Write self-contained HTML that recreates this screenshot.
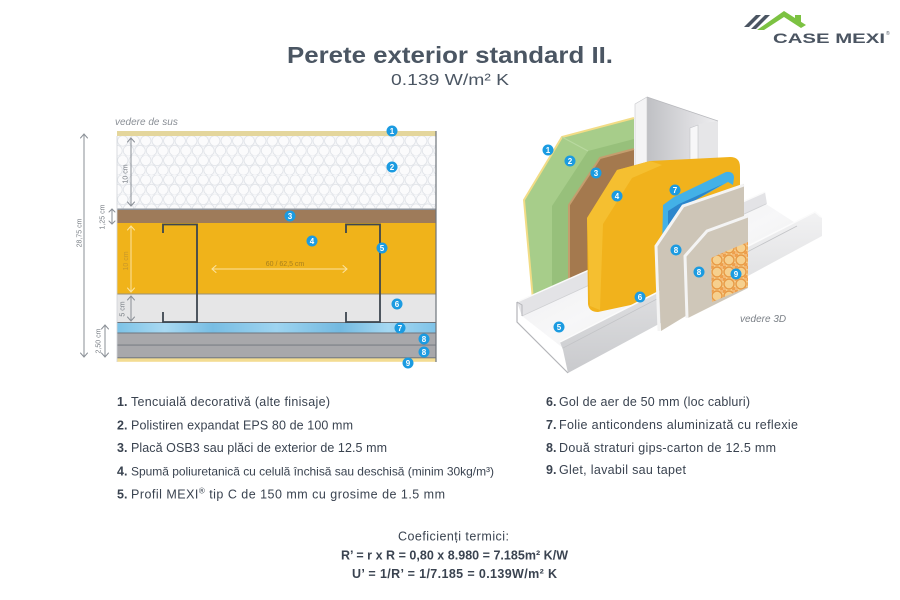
<!DOCTYPE html>
<html><head><meta charset="utf-8"><style>
html,body{margin:0;padding:0;background:#fff;}
svg{display:block;}
text{font-family:"Liberation Sans","DejaVu Sans",sans-serif;}
</style></head><body>
<svg width="900" height="600" viewBox="0 0 900 600" xmlns="http://www.w3.org/2000/svg">
<defs>
<pattern id="eps" x="117" y="136" width="11.5" height="19.5" patternUnits="userSpaceOnUse">
<rect width="11.5" height="19.5" fill="#f6f7f9"/>
<circle cx="5.75" cy="4.9" r="5.2" fill="#fbfbfc" stroke="#e0e3e8" stroke-width="0.8"/>
<circle cx="0" cy="14.6" r="5.2" fill="#fbfbfc" stroke="#e0e3e8" stroke-width="0.8"/>
<circle cx="11.5" cy="14.6" r="5.2" fill="#fbfbfc" stroke="#e0e3e8" stroke-width="0.8"/>
</pattern>
<linearGradient id="foil" x1="0" y1="0" x2="1" y2="0">
<stop offset="0" stop-color="#7cc2e6"/><stop offset="0.15" stop-color="#a9d9f2"/><stop offset="0.3" stop-color="#78bde3"/><stop offset="0.5" stop-color="#9ed4f0"/><stop offset="0.7" stop-color="#73b9e0"/><stop offset="0.85" stop-color="#a5d8f2"/><stop offset="1" stop-color="#7fc3e8"/>
</linearGradient>
<linearGradient id="web" x1="0" y1="0" x2="1" y2="0">
<stop offset="0" stop-color="#bfc0c4"/><stop offset="0.6" stop-color="#dcdcdf"/><stop offset="1" stop-color="#eeeef0"/>
</linearGradient>
<linearGradient id="flange" x1="0" y1="0" x2="0" y2="1">
<stop offset="0" stop-color="#f2f2f3"/><stop offset="1" stop-color="#c9cacd"/>
</linearGradient>
<linearGradient id="floor" x1="0" y1="0" x2="1" y2="1">
<stop offset="0" stop-color="#e9e9eb"/><stop offset="0.5" stop-color="#f7f7f8"/><stop offset="1" stop-color="#e4e4e6"/>
</linearGradient>
<pattern id="wp" x="711" y="242" width="12" height="12" patternUnits="userSpaceOnUse">
<rect width="12" height="12" fill="#f6d08e"/>
<circle cx="6" cy="6" r="5" fill="none" stroke="#e89a45" stroke-width="1.4"/>
<circle cx="0" cy="0" r="3" fill="#ee9f4c"/>
<circle cx="12" cy="12" r="3" fill="#ee9f4c"/>
<circle cx="12" cy="0" r="3" fill="#f3b874"/>
<circle cx="0" cy="12" r="3" fill="#f3b874"/>
</pattern>
</defs>

<!-- Logo -->
<g>
<polygon points="744,27 756,15 761,15 749,27" fill="#4b5562"/>
<polygon points="751,29 765,15 770,15 756,29" fill="#4b5562"/>
<polygon points="757,30 784,11 806,25 801,28 784,17 764,30" fill="#7cc242"/>
<polygon points="795,15 801,15 801,22 795,19" fill="#7cc242"/>
<text x="773" y="43" font-size="13.5" font-weight="bold" fill="#4b5562" textLength="112" lengthAdjust="spacingAndGlyphs">CASE MEXI</text>
<text x="886" y="35" font-size="5" fill="#4b5562">®</text>
</g>

<!-- Title -->
<text x="450" y="63" text-anchor="middle" font-size="23" font-weight="bold" fill="#4b5663" textLength="326" lengthAdjust="spacingAndGlyphs">Perete exterior standard II.</text>
<text x="450" y="85" text-anchor="middle" font-size="16" fill="#4b5663" textLength="118" lengthAdjust="spacingAndGlyphs">0.139 W/m² K</text>

<!-- LEFT DIAGRAM -->
<text x="115" y="125" font-size="10" font-style="italic" fill="#8a8f96">vedere de sus</text>
<rect x="117" y="131" width="319" height="5" fill="#e4d69c"/>
<rect x="117" y="136" width="319" height="73" fill="url(#eps)"/>
<rect x="117" y="208.5" width="319" height="1.8" fill="#8e939a"/>
<rect x="117" y="210" width="319" height="13" fill="#9e7b5a"/>
<rect x="117" y="223" width="319" height="71" fill="#f0b31a"/>
<rect x="117" y="293.5" width="319" height="1" fill="#9c9276"/>
<rect x="117" y="294.5" width="319" height="28" fill="#e6e6e7"/>
<rect x="117" y="322" width="319" height="1.2" fill="#6f757c"/>
<rect x="117" y="323" width="319" height="10" fill="url(#foil)"/>
<rect x="117" y="332.5" width="319" height="1.2" fill="#6f757c"/>
<rect x="117" y="333.5" width="319" height="11.5" fill="#a8a8ab"/>
<rect x="117" y="344.6" width="319" height="1.2" fill="#6f757c"/>
<rect x="117" y="345.5" width="319" height="12" fill="#a8a8ab"/>
<rect x="117" y="357.3" width="319" height="1.2" fill="#6f757c"/>
<rect x="117" y="358.3" width="319" height="3.5" fill="#f3dc92"/>
<line x1="436" y1="131" x2="436" y2="362" stroke="#6f747b" stroke-width="1.2"/>
<line x1="117" y1="136" x2="117" y2="362" stroke="#d0d3d8" stroke-width="0.8"/>

<!-- studs -->
<path d="M163,233 V224.5 H197 V322 H163 V312" fill="none" stroke="#3d4650" stroke-width="1.8"/>
<path d="M346,233 V224.5 H380 V322 H346 V312" fill="none" stroke="#3d4650" stroke-width="1.8"/>

<!-- dimension arrows -->
<g fill="none" stroke-width="1" stroke-linecap="round">
<g stroke="#8a8f96">
<line x1="84" y1="134" x2="84" y2="357"/><polyline points="80.5,138 84,134 87.5,138"/><polyline points="80.5,353 84,357 87.5,353"/>
<line x1="131" y1="138" x2="131" y2="206"/><polyline points="127.5,142 131,138 134.5,142"/><polyline points="127.5,202 131,206 134.5,202"/>
<line x1="112" y1="209" x2="112" y2="224"/><polyline points="109,212 112,209 115,212"/><polyline points="109,221 112,224 115,221"/>
<line x1="131" y1="296" x2="131" y2="321"/><polyline points="127.5,300 131,296 134.5,300"/><polyline points="127.5,317 131,321 134.5,317"/>
<line x1="105" y1="325" x2="105" y2="357"/><polyline points="101.5,329 105,325 108.5,329"/><polyline points="101.5,353 105,357 108.5,353"/>
</g>
<g stroke="#fbe3a0">
<line x1="131" y1="226" x2="131" y2="292"/><polyline points="127.5,230 131,226 134.5,230"/><polyline points="127.5,288 131,292 134.5,288"/>
<line x1="212" y1="269" x2="347" y2="269"/><polyline points="216,265.5 212,269 216,272.5"/><polyline points="343,265.5 347,269 343,272.5"/>
</g>
</g>
<g font-size="7" fill="#7b8087">
<text transform="translate(81.5,233) rotate(-90)" text-anchor="middle">28,75 cm</text>
<text transform="translate(127.5,174) rotate(-90)" text-anchor="middle">10 cm</text>
<text transform="translate(104.5,217) rotate(-90)" text-anchor="middle">1,25 cm</text>
<text transform="translate(124.5,309) rotate(-90)" text-anchor="middle">5 cm</text>
<text transform="translate(100.5,341) rotate(-90)" text-anchor="middle">2,50 cm</text>
</g>
<text transform="translate(128,261) rotate(-90)" text-anchor="middle" font-size="7" fill="#c9982a">10 cm</text>
<text x="285" y="266" text-anchor="middle" font-size="7" fill="#a77f1c">60 / 62,5 cm</text>

<!-- badges left -->
<g font-size="8" font-weight="bold" fill="#fff" text-anchor="middle">
<g><circle cx="392" cy="131" r="5.5" fill="#1b9be1"/><text x="392" y="134">1</text></g>
<g><circle cx="392" cy="167" r="5.5" fill="#1b9be1"/><text x="392" y="170">2</text></g>
<g><circle cx="290" cy="216" r="5.5" fill="#1b9be1"/><text x="290" y="219">3</text></g>
<g><circle cx="312" cy="241" r="5.5" fill="#1b9be1"/><text x="312" y="244">4</text></g>
<g><circle cx="382" cy="248" r="5.5" fill="#1b9be1"/><text x="382" y="251">5</text></g>
<g><circle cx="397" cy="304" r="5.5" fill="#1b9be1"/><text x="397" y="307">6</text></g>
<g><circle cx="400" cy="328" r="5.5" fill="#1b9be1"/><text x="400" y="331">7</text></g>
<g><circle cx="424" cy="339" r="5.5" fill="#1b9be1"/><text x="424" y="342">8</text></g>
<g><circle cx="424" cy="352" r="5.5" fill="#1b9be1"/><text x="424" y="355">8</text></g>
<g><circle cx="408" cy="363" r="5.5" fill="#1b9be1"/><text x="408" y="366">9</text></g>
</g>

<!-- 3D DIAGRAM -->
<!-- green EPS -->
<polygon points="524,200 562,137 634,118 634,150 600,160 570,202 569,282 533,300" fill="#a7cd8a"/>
<polygon points="552,206 588,151 634,139 634,150 600,160 570,202 569,282 552,292" fill="#97c07b"/>
<polyline points="533,300 524,200 562,137 634,118" fill="none" stroke="#f2dc86" stroke-width="2"/>
<line x1="562" y1="137" x2="588" y2="151" stroke="#b9d9a0" stroke-width="1"/>
<!-- brown OSB -->
<polygon points="569,205 600,158 634,149 634,215 600,250 592,306 569,283" fill="#a4794e"/>
<polyline points="569,283 569,205 600,158 634,149" fill="none" stroke="#c49e6e" stroke-width="2"/>
<!-- steel stud -->
<polygon points="647,97 718,121 718,185 647,185" fill="url(#web)"/>
<polygon points="635,104 647,97 647,185 635,185" fill="#f4f4f5" stroke="#c8c9cc" stroke-width="0.6"/>
<polygon points="698,124 718,121 718,185 698,185" fill="#e6e6e8"/>
<polygon points="690,128 698,125 698,185 690,185" fill="#f7f7f8" stroke="#c2c3c7" stroke-width="0.6"/>
<line x1="647" y1="97" x2="718" y2="121" stroke="#b8b9bd" stroke-width="0.8"/>
<!-- track back flange & floor -->
<polygon points="517,302 765,192 767,204 522,316" fill="#e3e3e6"/>
<polyline points="517,302 765,192" fill="none" stroke="#fafafa" stroke-width="1.5"/>
<polygon points="522,316 766,204 797,224 563,348" fill="url(#floor)"/>
<polyline points="522,316 766,204" fill="none" stroke="#cfd0d3" stroke-width="0.8"/>
<!-- yellow foam -->
<path d="M587,218 L617,170 L650,161 L730,157 Q740,157 740,167 L740,190 L700,212 L682,292 L645,302 L598,312 Q589,312 588,304 Z" fill="#f1b21c"/>
<polygon points="587,218 617,170 650,161 662,165 632,178 603,224 600,310 590,306" fill="#f5bf30"/>
<!-- blue foil -->
<path d="M663,205 L674,197 L726,172 Q734,171 734,178 L733,185 L728,182 L692,202 L683,212 L681,254 L666,262 L662,252 Z" fill="#43b1e7"/>
<path d="M668,211 L679,204 L723,184 L692,202 L683,212 L681,252 L668,257 Z" fill="#2c86cc"/>
<!-- track front flange & end -->
<polygon points="560,342 815,212 822,218 822,236 568,373 563,350" fill="url(#flange)"/>
<polyline points="560,342 815,212 821,217" fill="none" stroke="#fbfbfb" stroke-width="1.5"/>
<polyline points="563,348 797,226" fill="none" stroke="#c3c4c7" stroke-width="0.8"/>
<polyline points="517,302 517,322 568,373" fill="none" stroke="#b4b5b9" stroke-width="1.2"/>
<polyline points="517,302 522,305 522,316" fill="none" stroke="#b4b5b9" stroke-width="1"/>
<!-- gypsum 1 -->
<polygon points="657,245 684,205 744,184 744,262 712,300 661,331" fill="#cdc5b7"/>
<polyline points="659,331 656,246 683,206 744,185" fill="none" stroke="#f4f4f4" stroke-width="3"/>
<!-- gypsum 2 -->
<polygon points="686,256 708,231 748,216 748,288 688,318" fill="#cfc7b9"/>
<polyline points="687,318 685,256 707,231 748,216" fill="none" stroke="#f4f4f4" stroke-width="3"/>
<!-- wallpaper -->
<polygon points="711,258 729,250 748,242 748,287 712,302" fill="url(#wp)"/>
<text x="740" y="322" font-size="10" font-style="italic" fill="#7b8087">vedere 3D</text>
<!-- badges 3D -->
<g font-size="8" font-weight="bold" fill="#fff" text-anchor="middle">
<g><circle cx="548" cy="150" r="5.5" fill="#1b9be1"/><text x="548" y="153">1</text></g>
<g><circle cx="570" cy="161" r="5.5" fill="#1b9be1"/><text x="570" y="164">2</text></g>
<g><circle cx="596" cy="173" r="5.5" fill="#1b9be1"/><text x="596" y="176">3</text></g>
<g><circle cx="617" cy="196" r="5.5" fill="#1b9be1"/><text x="617" y="199">4</text></g>
<g><circle cx="675" cy="190" r="5.5" fill="#1b9be1"/><text x="675" y="193">7</text></g>
<g><circle cx="676" cy="250" r="5.5" fill="#1b9be1"/><text x="676" y="253">8</text></g>
<g><circle cx="699" cy="272" r="5.5" fill="#1b9be1"/><text x="699" y="275">8</text></g>
<g><circle cx="736" cy="274" r="5.5" fill="#1b9be1"/><text x="736" y="277">9</text></g>
<g><circle cx="640" cy="297" r="5.5" fill="#1b9be1"/><text x="640" y="300">6</text></g>
<g><circle cx="559" cy="327" r="5.5" fill="#1b9be1"/><text x="559" y="330">5</text></g>
</g>

<!-- LEGEND -->
<g font-size="12.5" fill="#3a4350">
<g font-weight="bold">
<text x="117" y="406">1.</text><text x="117" y="429.5">2.</text><text x="117" y="452">3.</text><text x="117" y="475.5">4.</text><text x="117" y="498.5">5.</text>
<text x="546" y="406">6.</text><text x="546" y="429">7.</text><text x="546" y="452">8.</text><text x="546" y="474">9.</text>
</g>
<text x="131" y="406" textLength="199">Tencuială decorativă (alte finisaje)</text>
<text x="131" y="429.5" textLength="222">Polistiren expandat EPS 80 de 100 mm</text>
<text x="131" y="452" textLength="256">Placă OSB3 sau plăci de exterior de 12.5 mm</text>
<text x="131" y="475.5" font-size="12" textLength="363">Spumă poliuretanică cu celulă închisă sau deschisă (minim 30kg/m³)</text>
<text x="131" y="498.5" textLength="314">Profil MEXI<tspan font-size="8" dy="-5">®</tspan><tspan dy="5"> tip C de 150 mm cu grosime de 1.5 mm</tspan></text>
<text x="559" y="406" textLength="191">Gol de aer de 50 mm (loc cabluri)</text>
<text x="559" y="429" textLength="239">Folie anticondens aluminizată cu reflexie</text>
<text x="559" y="452" textLength="217">Două straturi gips-carton de 12.5 mm</text>
<text x="559" y="474" textLength="127">Glet, lavabil sau tapet</text>
</g>

<!-- coefficients -->
<g fill="#3a4350" text-anchor="middle" font-size="12.5">
<text x="453.5" y="540.5" textLength="111">Coeficienți termici:</text>
<text x="454.5" y="559.5" font-weight="bold" textLength="227">R’ = r x R = 0,80 x 8.980 = 7.185m² K/W</text>
<text x="454.5" y="578" font-weight="bold" textLength="205">U’ = 1/R’ = 1/7.185 = 0.139W/m² K</text>
</g>
</svg>
</body></html>
